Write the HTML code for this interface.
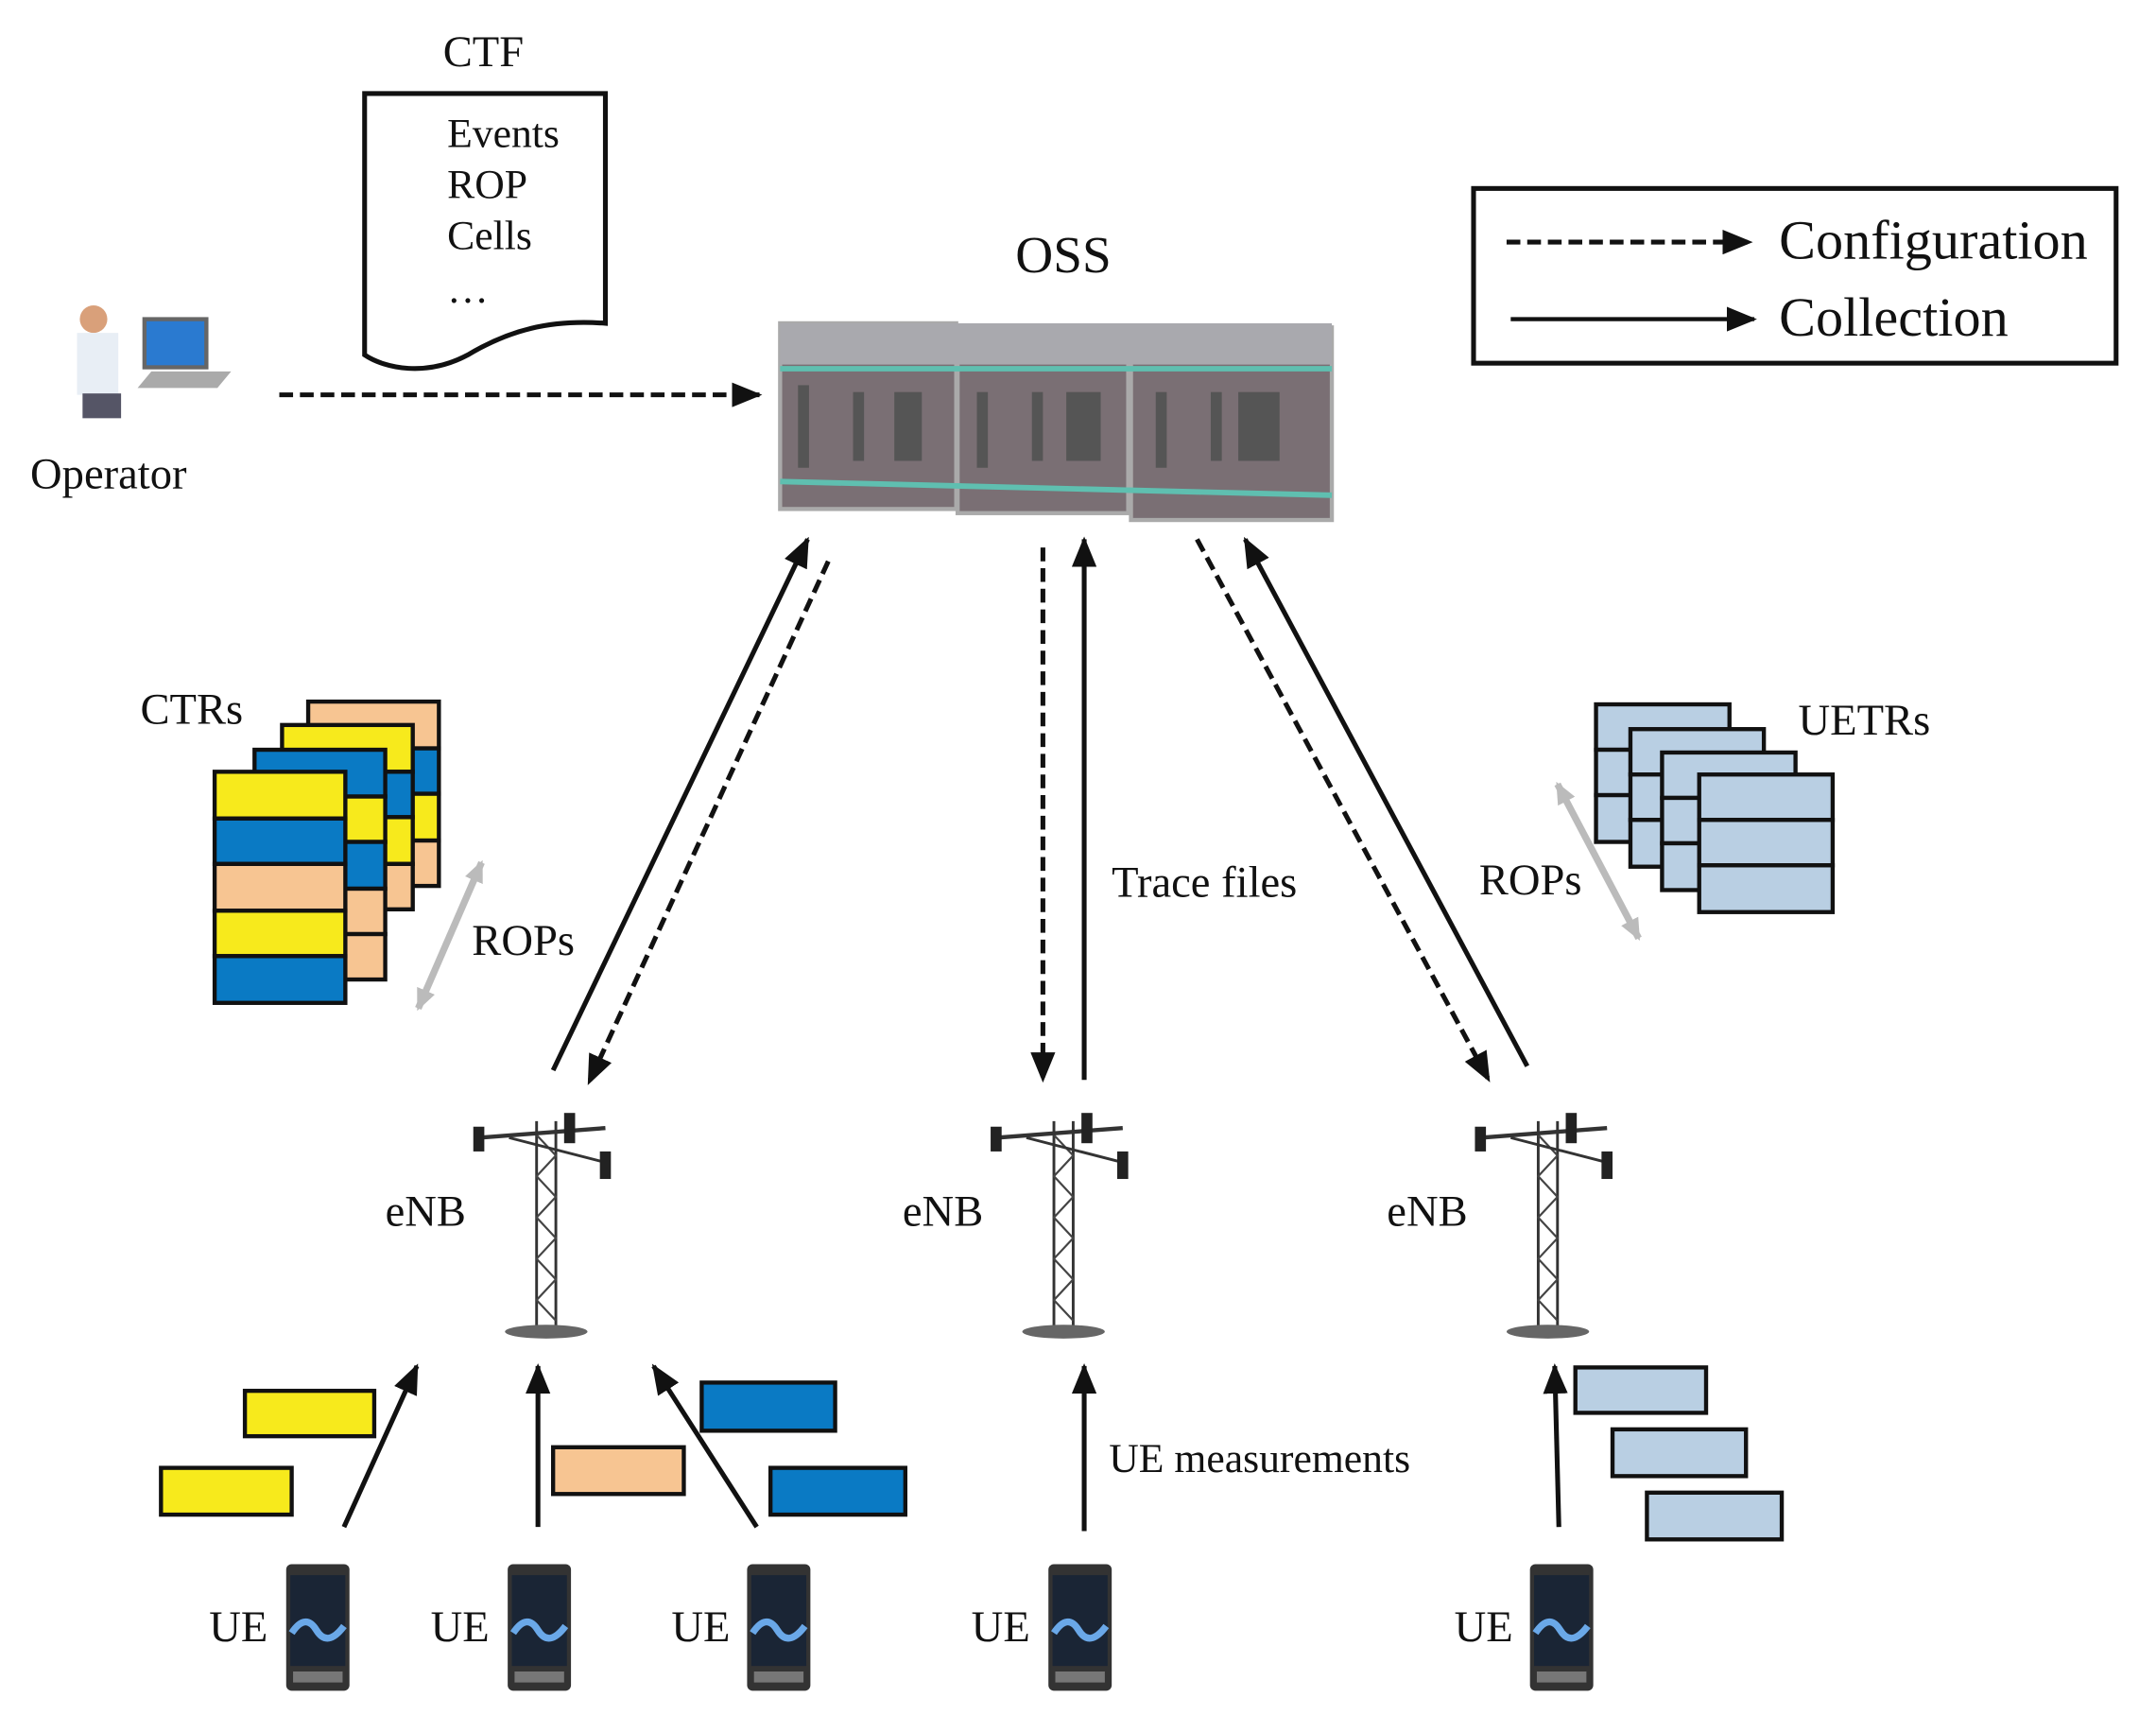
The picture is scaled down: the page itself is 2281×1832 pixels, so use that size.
<!DOCTYPE html>
<html><head><meta charset="utf-8"><style>
html,body{margin:0;padding:0;background:#fff}
svg{display:block}
text{font-family:"Liberation Serif",serif;fill:#111}
</style></head><body>
<svg width="2281" height="1832" viewBox="0 0 1567 1259" preserveAspectRatio="none" xmlns="http://www.w3.org/2000/svg">
<defs>
<marker id="ahb" markerWidth="22" markerHeight="18" refX="20" refY="9" orient="auto" markerUnits="userSpaceOnUse">
<path d="M0,0 L22,9 L0,18 z" fill="#111"/></marker>
<marker id="ahg" markerWidth="16" markerHeight="14" refX="14" refY="7" orient="auto-start-reverse" markerUnits="userSpaceOnUse">
<path d="M0,0 L16,7 L0,14 z" fill="#bbb"/></marker>
<g id="tower">
<line x1="0" y1="0" x2="0" y2="150" stroke="#333" stroke-width="2"/>
<line x1="14" y1="0" x2="14" y2="150" stroke="#333" stroke-width="2"/>
<path d="M0,10 L14,25 L0,40 L14,55 L0,70 L14,85 L0,100 L14,115 L0,130 L14,145" stroke="#444" fill="none" stroke-width="1.5"/>
<line x1="-42" y1="12" x2="50" y2="5" stroke="#333" stroke-width="3"/>
<line x1="-20" y1="12" x2="50" y2="30" stroke="#333" stroke-width="2"/>
<rect x="-46" y="4" width="8" height="18" fill="#222"/>
<rect x="20" y="-6" width="8" height="22" fill="#222"/>
<rect x="46" y="22" width="8" height="20" fill="#222"/>
<ellipse cx="7" cy="153" rx="30" ry="5" fill="#666"/>
</g>
<g id="phone">
<rect x="0" y="0" width="46" height="92" rx="4" fill="#333"/>
<rect x="3" y="8" width="40" height="66" fill="#1a2535"/>
<path d="M4,50 Q14,35 22,48 T42,45" stroke="#6aa8e8" stroke-width="5" fill="none"/>
<rect x="5" y="78" width="36" height="8" fill="#777"/>
</g>
</defs>

<text x="322" y="48" font-size="32">CTF</text>
<path d="M265,68 L440,68 L440,235 C400,232 370,240 340,258 C310,274 280,268 265,258 Z" fill="#fff" stroke="#111" stroke-width="3.5"/>
<text x="325" y="107" font-size="30">Events</text>
<text x="325" y="144" font-size="30">ROP</text>
<text x="325" y="181" font-size="30">Cells</text>
<text x="325" y="220" font-size="30">…</text>

<polygon points="110,270 168,270 158,282 100,282" fill="#aaa"/>
<rect x="105" y="232" width="45" height="35" fill="#2a7ad0" stroke="#666" stroke-width="3"/>
<circle cx="68" cy="232" r="10" fill="#d9a07a"/>
<rect x="56" y="242" width="30" height="45" fill="#e8eef5"/>
<rect x="60" y="286" width="28" height="18" fill="#556"/>
<text x="22" y="355" font-size="32">Operator</text>
<line x1="203" y1="287" x2="552" y2="287" stroke="#111" stroke-width="3.5" stroke-dasharray="10,5" marker-end="url(#ahb)"/>

<text x="738" y="198" font-size="38">OSS</text>
<g>
<rect x="567" y="235" width="128" height="135" fill="#7a6f74" stroke="#aaa" stroke-width="3"/>
<rect x="696" y="238" width="124" height="135" fill="#7a6f74" stroke="#aaa" stroke-width="3"/>
<rect x="822" y="238" width="146" height="140" fill="#7a6f74" stroke="#aaa" stroke-width="3"/>
<rect x="567" y="235" width="401" height="30" fill="#a9a9ae"/>
<g fill="#555">
<rect x="580" y="280" width="8" height="60"/><rect x="620" y="285" width="8" height="50"/><rect x="650" y="285" width="20" height="50"/>
<rect x="710" y="285" width="8" height="55"/><rect x="750" y="285" width="8" height="50"/><rect x="775" y="285" width="25" height="50"/>
<rect x="840" y="285" width="8" height="55"/><rect x="880" y="285" width="8" height="50"/><rect x="900" y="285" width="30" height="50"/>
</g>
<line x1="567" y1="268" x2="968" y2="268" stroke="#5fbfb0" stroke-width="4"/>
<line x1="567" y1="350" x2="968" y2="360" stroke="#5fbfb0" stroke-width="4"/>
</g>

<rect x="1071" y="137" width="467" height="127" fill="#fff" stroke="#111" stroke-width="3.5"/>
<line x1="1095" y1="176" x2="1272" y2="176" stroke="#111" stroke-width="3.5" stroke-dasharray="10,5" marker-end="url(#ahb)"/>
<line x1="1098" y1="232" x2="1275" y2="232" stroke="#111" stroke-width="3" marker-end="url(#ahb)"/>
<text x="1293" y="188" font-size="40">Configuration</text>
<text x="1293" y="244" font-size="40">Collection</text>

<g stroke="#111" stroke-width="3.5">
<line x1="402" y1="778" x2="587" y2="392" marker-end="url(#ahb)"/>
<line x1="602" y1="408" x2="428" y2="787" stroke-dasharray="10,5" marker-end="url(#ahb)"/>
<line x1="758" y1="398" x2="758" y2="785" stroke-dasharray="10,5" marker-end="url(#ahb)"/>
<line x1="788" y1="785" x2="788" y2="392" marker-end="url(#ahb)"/>
<line x1="870" y1="392" x2="1082" y2="785" stroke-dasharray="10,5" marker-end="url(#ahb)"/>
<line x1="1110" y1="775" x2="905" y2="392" marker-end="url(#ahb)"/>
</g>
<text x="808" y="652" font-size="32">Trace files</text>

<text x="102" y="526" font-size="32">CTRs</text>
<g stroke="#111" stroke-width="3">
<g transform="translate(224,510)"><rect y="0" width="95" height="34" fill="#f7c592"/><rect y="34" width="95" height="33" fill="#0a7ac4"/><rect y="67" width="95" height="34" fill="#f7ea1c"/><rect y="101" width="95" height="33" fill="#f7c592"/></g>
<g transform="translate(205,527)"><rect y="0" width="95" height="34" fill="#f7ea1c"/><rect y="34" width="95" height="33" fill="#0a7ac4"/><rect y="67" width="95" height="34" fill="#f7ea1c"/><rect y="101" width="95" height="33" fill="#f7c592"/></g>
<g transform="translate(185,545)"><rect y="0" width="95" height="34" fill="#0a7ac4"/><rect y="34" width="95" height="33" fill="#f7ea1c"/><rect y="67" width="95" height="34" fill="#0a7ac4"/><rect y="101" width="95" height="33" fill="#f7c592"/><rect y="134" width="95" height="33" fill="#f7c592"/></g>
<g transform="translate(156,561)"><rect y="0" width="95" height="34" fill="#f7ea1c"/><rect y="34" width="95" height="33" fill="#0a7ac4"/><rect y="67" width="95" height="34" fill="#f7c592"/><rect y="101" width="95" height="33" fill="#f7ea1c"/><rect y="134" width="95" height="34" fill="#0a7ac4"/></g>
</g>
<line x1="304" y1="733" x2="350" y2="627" stroke="#bbb" stroke-width="5" marker-start="url(#ahg)" marker-end="url(#ahg)"/>
<text x="343" y="694" font-size="32">ROPs</text>

<text x="1307" y="534" font-size="32">UETRs</text>
<g stroke="#111" stroke-width="3" fill="#b9cfe3">
<g transform="translate(1160,512)"><rect width="97" height="33"/><rect y="33" width="97" height="33"/><rect y="66" width="97" height="34"/></g>
<g transform="translate(1185,530)"><rect width="97" height="33"/><rect y="33" width="97" height="33"/><rect y="66" width="97" height="34"/></g>
<g transform="translate(1208,547)"><rect width="97" height="33"/><rect y="33" width="97" height="33"/><rect y="66" width="97" height="34"/></g>
<g transform="translate(1235,563)"><rect width="97" height="33"/><rect y="33" width="97" height="33"/><rect y="66" width="97" height="34"/></g>
</g>
<line x1="1132" y1="570" x2="1191" y2="682" stroke="#bbb" stroke-width="5" marker-start="url(#ahg)" marker-end="url(#ahg)"/>
<text x="1075" y="650" font-size="32">ROPs</text>

<use href="#tower" x="390" y="815"/>
<use href="#tower" x="766" y="815"/>
<use href="#tower" x="1118" y="815"/>
<text x="280" y="891" font-size="32">eNB</text>
<text x="656" y="891" font-size="32">eNB</text>
<text x="1008" y="891" font-size="32">eNB</text>

<g stroke="#111" stroke-width="3">
<rect x="178" y="1011" width="94" height="33" fill="#f7ea1c"/>
<rect x="117" y="1067" width="95" height="34" fill="#f7ea1c"/>
<rect x="402" y="1052" width="95" height="34" fill="#f7c592"/>
<rect x="510" y="1005" width="97" height="35" fill="#0a7ac4"/>
<rect x="560" y="1067" width="98" height="34" fill="#0a7ac4"/>
<rect x="1145" y="994" width="95" height="33" fill="#b9cfe3"/>
<rect x="1172" y="1039" width="97" height="34" fill="#b9cfe3"/>
<rect x="1197" y="1085" width="98" height="34" fill="#b9cfe3"/>
</g>
<g stroke="#111" stroke-width="3.5">
<line x1="250" y1="1110" x2="303" y2="993" marker-end="url(#ahb)"/>
<line x1="391" y1="1110" x2="391" y2="993" marker-end="url(#ahb)"/>
<line x1="550" y1="1110" x2="475" y2="993" marker-end="url(#ahb)"/>
<line x1="788" y1="1113" x2="788" y2="993" marker-end="url(#ahb)"/>
<line x1="1133" y1="1110" x2="1130" y2="993" marker-end="url(#ahb)"/>
</g>
<text x="806" y="1070" font-size="30">UE measurements</text>

<use href="#phone" x="208" y="1137"/>
<use href="#phone" x="369" y="1137"/>
<use href="#phone" x="543" y="1137"/>
<use href="#phone" x="762" y="1137"/>
<use href="#phone" x="1112" y="1137"/>
<text x="152" y="1193" font-size="32">UE</text>
<text x="313" y="1193" font-size="32">UE</text>
<text x="488" y="1193" font-size="32">UE</text>
<text x="706" y="1193" font-size="32">UE</text>
<text x="1057" y="1193" font-size="32">UE</text>
</svg>
</body></html>
